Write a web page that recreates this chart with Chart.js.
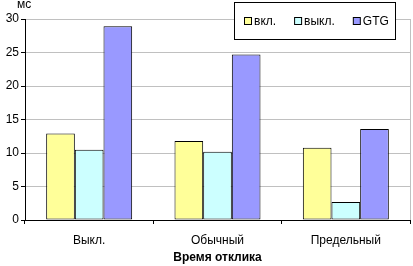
<!DOCTYPE html>
<html lang="ru">
<head>
<meta charset="UTF-8">
<title>Время отклика</title>
<script src="https://cdn.jsdelivr.net/npm/chart.js"></script>
<style>
  html,body{margin:0;padding:0;background:#fff}
  #wrap{width:413px;height:266px;position:relative}
</style>
</head>
<body>
<div id="wrap"><canvas id="chart" width="413" height="266"></canvas></div>
<script>
const categories=['Выкл.','Обычный','Предельный'];
const seriesNames=['вкл.','выкл.','GTG'];
const onValues=[12.9,11.8,10.8];
const offValues=[10.5,10.2,2.7];
const gtgValues=[28.9,24.7,13.6];
const yTicks=[0,5,10,15,20,25,30];
const unitLabel='мс';
const axisTitle='Время отклика';

const colors=['#ffff99','#ccffff','#9999ff'];
const FONT='"Liberation Sans", Arial, sans-serif';

// legend box + unit label + right border of plot
const decor={
  id:'decor',
  afterDraw(c){
    const ctx=c.ctx, a=c.chartArea;
    ctx.save();
    ctx.strokeStyle='#c0c0c0';ctx.lineWidth=1;
    ctx.beginPath();ctx.moveTo(Math.round(a.right)+0.5,a.top);ctx.lineTo(Math.round(a.right)+0.5,a.bottom);ctx.stroke();

    ctx.fillStyle='#000';ctx.font='12px '+FONT;ctx.textBaseline='alphabetic';ctx.textAlign='left';
    ctx.fillText(unitLabel,17,8);

    // legend
    const bx=234.5,by=2.5,bw=161,bh=37;
    ctx.fillStyle='#fff';ctx.fillRect(bx,by,bw,bh);
    ctx.strokeStyle='#000';ctx.strokeRect(bx,by,bw,bh);
    let x=244;const cy=21;
    c.data.datasets.forEach(ds=>{
      ctx.fillStyle=ds.backgroundColor;
      ctx.fillRect(x+0.5,cy-3.5,7,7);
      ctx.strokeStyle='#000';ctx.strokeRect(x+0.5,cy-3.5,7,7);
      ctx.fillStyle='#000';ctx.textBaseline='middle';
      ctx.fillText(ds.label,x+10,cy+1);
      x+=10+ctx.measureText(ds.label).width+18;
    });
    ctx.restore();
  }
};

new Chart(document.getElementById('chart'),{
  type:'bar',
  data:{
    labels:categories,
    datasets:[onValues,offValues,gtgValues].map((d,i)=>({
      label:seriesNames[i],data:d,backgroundColor:colors[i],
      borderColor:'#000',borderWidth:1,borderSkipped:false,
      categoryPercentage:0.67,barPercentage:1
    }))
  },
  options:{
    responsive:false,animation:false,
    layout:{padding:{top:19,right:3,left:0,bottom:0}},
    plugins:{legend:{display:false},tooltip:{enabled:false}},
    scales:{
      x:{
        grid:{display:true,drawOnChartArea:false,drawTicks:true,tickLength:4,offset:true,color:'#000'},
        border:{display:true,color:'#000'},
        ticks:{color:'#000',font:{family:FONT,size:12},padding:9},
        title:{display:true,text:axisTitle,color:'#000',font:{family:FONT,size:12,weight:'bold'},padding:{top:2,bottom:1}},
        afterFit(s){s.height=46;}
      },
      y:{
        min:0,max:30,
        afterBuildTicks(s){s.ticks=yTicks.map(v=>({value:v}));},
        grid:{color:'#c0c0c0',tickColor:'#000',tickLength:4,drawTicks:true},
        border:{display:true,color:'#000'},
        ticks:{color:'#000',font:{family:FONT,size:12},padding:2},
        afterFit(s){s.width=25;}
      }
    }
  },
  plugins:[decor]
});
</script>
</body>
</html>
